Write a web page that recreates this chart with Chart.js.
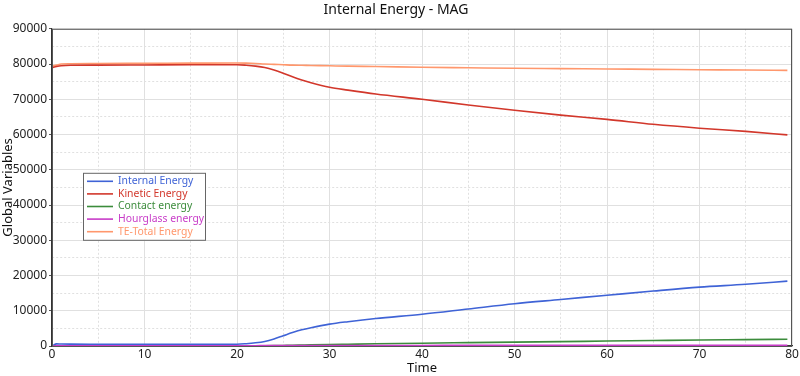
<!DOCTYPE html>
<html>
<head>
<meta charset="utf-8">
<script src="https://cdn.jsdelivr.net/npm/chart.js@4"></script>
<style>
  html, body { margin: 0; padding: 0; background: #fff; }
  canvas { display: block; }
</style>
</head>
<body>
<canvas id="energyChart" width="800" height="376"></canvas>
<script>
// time samples and series
const time = [0, 0.5, 1, 2, 5, 10, 15, 20, 21, 22, 23, 24, 25, 26, 27, 28, 30, 32, 35, 40, 45, 50, 55, 60, 65, 70, 75, 79.5];
const internalEnergy = [0, 600, 560, 530, 510, 490, 480, 500, 650, 900, 1300, 2000, 2900, 3800, 4600, 5200, 6200, 6900, 7800, 9000, 10500, 12000, 13200, 14400, 15600, 16700, 17500, 18400];
const kineticEnergy = [79000, 79300, 79500, 79650, 79700, 79750, 79800, 79800, 79650, 79400, 79000, 78300, 77400, 76400, 75500, 74700, 73400, 72600, 71500, 70000, 68400, 66900, 65500, 64300, 62900, 61800, 60900, 59900];
const contactEnergy = [0, 0, 0, 0, 0, 0, 0, 0, 10, 30, 60, 100, 150, 200, 260, 320, 420, 500, 620, 800, 950, 1100, 1250, 1400, 1550, 1700, 1800, 1900];
const hourglassEnergy = [0, 30, 40, 50, 60, 60, 70, 80, 85, 90, 95, 100, 105, 110, 115, 120, 130, 135, 145, 160, 170, 180, 190, 200, 205, 210, 215, 220];
const totalEnergy = [79400, 79700, 80000, 80100, 80150, 80200, 80250, 80300, 80250, 80150, 80000, 79900, 79800, 79700, 79650, 79600, 79500, 79400, 79300, 79100, 78950, 78800, 78700, 78600, 78500, 78400, 78300, 78200];

const seriesNames = ['Internal Energy', 'Kinetic Energy', 'Contact energy', 'Hourglass energy', 'TE-Total Energy'];
const seriesColors = ['#3f63d6', '#d2372b', '#3c8c3c', '#c83cc8', '#ff976c'];
const seriesValues = [internalEnergy, kineticEnergy, contactEnergy, hourglassEnergy, totalEnergy];
const drawOrder = [3, 2, 1, 0, 4];

const FONT = '"Noto Sans", "DejaVu Sans", sans-serif';

const datasets = seriesNames.map((name, i) => ({
    label: name,
    data: time.map((t, j) => ({ x: t, y: seriesValues[i][j] })),
    borderColor: seriesColors[i],
    backgroundColor: seriesColors[i],
    borderWidth: 1.6,
    pointRadius: 0,
    fill: false,
    order: drawOrder[i],
    cubicInterpolationMode: 'monotone'
}));

// box around plot + legend inside the plot
const boxPlugin = {
    id: 'boxAndLegend',
    afterDraw(chart) {
        const ctx = chart.ctx;
        const a = chart.chartArea;
        ctx.save();
        ctx.strokeStyle = '#555';
        ctx.lineWidth = 1;
        ctx.strokeRect(a.left + 0.5, a.top + 0.5, a.right - a.left - 1, a.bottom - a.top);

        const lx = a.left + 31, ly = a.top + 144, lw = 122, lh = 67;
        ctx.fillStyle = '#fff';
        ctx.fillRect(lx, ly, lw, lh);
        ctx.strokeStyle = '#666';
        ctx.strokeRect(lx + 0.5, ly + 0.5, lw, lh);
        ctx.font = '10.4px ' + FONT;
        ctx.textBaseline = 'middle';
        seriesNames.forEach((name, i) => {
            const y = ly + 8.5 + i * 12.6;
            ctx.strokeStyle = seriesColors[i];
            ctx.lineWidth = 1.6;
            ctx.beginPath();
            ctx.moveTo(lx + 4, y);
            ctx.lineTo(lx + 30, y);
            ctx.stroke();
            ctx.fillStyle = seriesColors[i];
            ctx.fillText(name, lx + 35, y);
        });
        ctx.restore();
    }
};

const gridColor = '#e0e0e0';
const dashFor = step => c => (c.tick && Math.abs(c.tick.value % step) > 1e-6) ? [2, 2] : [];

new Chart(document.getElementById('energyChart').getContext('2d'), {
    type: 'line',
    data: { datasets: datasets },
    plugins: [boxPlugin],
    options: {
        responsive: false,
        animation: false,
        devicePixelRatio: 1,
        layout: { padding: { left: 0, right: 8, top: 0, bottom: 0 } },
        plugins: {
            legend: { display: false },
            tooltip: { enabled: false },
            title: {
                display: true,
                text: 'Internal Energy - MAG',
                color: '#111',
                font: { family: FONT, size: 14, weight: 'normal' },
                padding: { top: 2, bottom: 10 }
            }
        },
        scales: {
            x: {
                type: 'linear',
                min: 0,
                max: 80,
                ticks: {
                    stepSize: 5,
                    autoSkip: false,
                    maxRotation: 0,
                    color: '#222',
                    padding: 1,
                    font: { family: FONT, size: 12 },
                    callback: v => (v % 10 === 0 ? v : '')
                },
                grid: { color: gridColor, lineWidth: 1, drawTicks: false },
                border: { color: '#333', width: 1.2, dash: dashFor(10) },
                title: {
                    display: true,
                    text: 'Time',
                    color: '#111',
                    font: { family: FONT, size: 13 },
                    padding: { top: -2, bottom: 0 }
                },
                afterFit: s => { s.height = 30; }
            },
            y: {
                type: 'linear',
                min: 0,
                max: 90000,
                ticks: {
                    stepSize: 5000,
                    autoSkip: false,
                    color: '#222',
                    padding: 2,
                    font: { family: FONT, size: 12 },
                    callback: v => (v % 10000 === 0 ? v : '')
                },
                grid: {
                    color: gridColor,
                    lineWidth: 1,
                    drawTicks: true,
                    tickLength: 3,
                    tickColor: c => (c.tick && c.tick.value % 10000 === 0) ? '#555' : 'rgba(0,0,0,0)'
                },
                border: { color: '#333', width: 1.2, dash: dashFor(10000) },
                title: {
                    display: true,
                    text: 'Global Variables',
                    color: '#111',
                    font: { family: FONT, size: 13 },
                    padding: { top: 0, bottom: 2 }
                },
                afterFit: s => { s.width = 52; }
            }
        }
    }
});
</script>
</body>
</html>
